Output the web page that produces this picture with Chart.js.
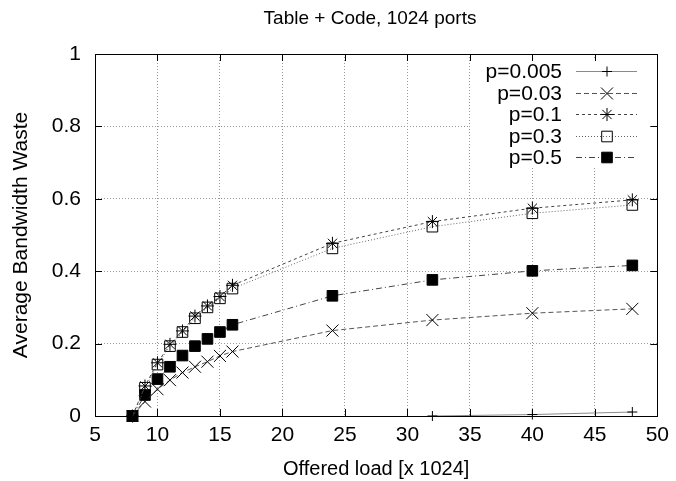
<!DOCTYPE html>
<html>
<head>
<meta charset="utf-8">
<script src="https://cdn.jsdelivr.net/npm/chart.js@4/dist/chart.umd.min.js"></script>
<style>
html,body{margin:0;padding:0;background:#fff;}
#wrap{width:676px;height:481px;position:relative;}
</style>
</head>
<body>
<div id="wrap"><canvas id="c" width="676" height="481"></canvas></div>
<script>
// ---- data ----
const chartTitle = "Table + Code, 1024 ports";
const xTitle = "Offered load [x 1024]";
const yTitle = "Average Bandwidth Waste";
const offeredLoad = [8, 9, 10, 11, 12, 13, 14, 15, 16, 24, 32, 40, 48];
const seriesLabels = ["p=0.005", "p=0.03", "p=0.1", "p=0.3", "p=0.5"];
const p0005 = [null, null, null, null, null, null, null, null, null, null, 0.000, 0.004, 0.011];
const p003  = [0, 0.040, 0.074, 0.099, 0.120, 0.136, 0.150, 0.166, 0.178, 0.236, 0.265, 0.284, 0.296];
const p01   = [0, 0.083, 0.147, 0.198, 0.235, 0.276, 0.304, 0.330, 0.361, 0.477, 0.537, 0.574, 0.597];
const p03   = [0, 0.078, 0.142, 0.193, 0.232, 0.270, 0.300, 0.325, 0.352, 0.463, 0.523, 0.560, 0.583];
const p05   = [0, 0.058, 0.102, 0.136, 0.167, 0.193, 0.213, 0.232, 0.252, 0.332, 0.376, 0.401, 0.416];
const xTicks = [5, 10, 15, 20, 25, 30, 35, 40, 45, 50];
const yTickLabels = ["0", "0.2", "0.4", "0.6", "0.8", "1"];

const FONT = '"Liberation Sans", Arial, Helvetica, sans-serif';
const FS = 21;
const toPts = arr => offeredLoad.map((x, i) => ({x: x, y: arr[i]}));

const styles = [
  {data: p0005, color: '#8a8a8a', dash: [], point: 'cross', r: 5, bg: 'rgba(0,0,0,0)'},
  {data: p003, color: '#555', dash: [5, 3], point: 'crossRot', r: 8.5, bg: 'rgba(0,0,0,0)'},
  {data: p01, color: '#444', dash: [3, 3], point: 'star', r: 6.5, bg: 'rgba(0,0,0,0)'},
  {data: p03, color: '#666', dash: [1, 2], point: 'rect', r: 7.5, bg: 'rgba(0,0,0,0)'},
  {data: p05, color: '#444', dash: [6, 3, 1, 3], point: 'rect', r: 7.5, bg: '#000'}
];

const datasets = styles.map((s, i) => ({
  label: seriesLabels[i],
  data: toPts(s.data),
  borderColor: s.color,
  borderWidth: 1,
  borderDash: s.dash,
  pointStyle: s.point,
  pointRadius: s.r,
  pointHoverRadius: s.r,
  pointBorderColor: '#000',
  pointBackgroundColor: s.bg,
  pointBorderWidth: 1,
  fill: false,
  tension: 0,
  spanGaps: false,
  clip: false
}));

const framePlugin = {
  id: 'frame',
  beforeDatasetsDraw(chart) {
    const {ctx} = chart;
    ctx.save();
    // legend background box (covers grid lines)
    ctx.fillStyle = '#fff';
    ctx.fillRect(470, 60, 181, 106);
    ctx.restore();
  },
  afterDatasetsDraw(chart) {
    const {ctx, chartArea: a, scales} = chart;
    ctx.save();
    // frame
    ctx.strokeStyle = '#000';
    ctx.lineWidth = 1;
    ctx.setLineDash([]);
    ctx.strokeRect(Math.round(a.left) + 0.5, Math.round(a.top) + 0.5, Math.round(a.right - a.left), Math.round(a.bottom - a.top));
    // inward ticks
    const tl = 7;
    ctx.beginPath();
    scales.x.ticks.forEach(t => {
      const px = Math.round(scales.x.getPixelForValue(t.value)) + 0.5;
      ctx.moveTo(px, a.bottom); ctx.lineTo(px, a.bottom - tl);
      ctx.moveTo(px, a.top); ctx.lineTo(px, a.top + tl);
    });
    scales.y.ticks.forEach(t => {
      const py = Math.round(scales.y.getPixelForValue(t.value)) + 0.5;
      ctx.moveTo(a.left, py); ctx.lineTo(a.left + tl, py);
      ctx.moveTo(a.right, py); ctx.lineTo(a.right - tl, py);
    });
    ctx.stroke();

    // legend
    ctx.font = FS + 'px ' + FONT;
    ctx.textAlign = 'right';
    ctx.textBaseline = 'middle';
    const x0 = 576, x1 = 637, mx = 607, y0 = 71, dy = 21.5;
    chart.data.datasets.forEach((ds, i) => {
      const y = Math.round(y0 + i * dy) + 0.5;
      ctx.fillStyle = '#000';
      ctx.fillText(ds.label, 562, y + 1);
      ctx.save();
      ctx.strokeStyle = ds.borderColor;
      ctx.lineWidth = 1;
      ctx.setLineDash(ds.borderDash);
      ctx.beginPath();
      ctx.moveTo(x0, y); ctx.lineTo(x1, y);
      ctx.stroke();
      ctx.restore();
      ctx.save();
      ctx.strokeStyle = '#000';
      ctx.fillStyle = ds.pointBackgroundColor;
      ctx.lineWidth = 1;
      ctx.setLineDash([]);
      Chart.helpers.drawPoint(ctx, {pointStyle: ds.pointStyle, radius: ds.pointRadius, rotation: 0, borderWidth: 1}, mx, y);
      ctx.restore();
    });

    // chart title
    ctx.font = '19px ' + FONT;
    ctx.textAlign = 'center';
    ctx.fillStyle = '#000';
    ctx.fillText(chartTitle, 370, 19);
    ctx.restore();
  }
};

new Chart(document.getElementById('c'), {
  type: 'line',
  data: {datasets: datasets},
  plugins: [framePlugin],
  options: {
    responsive: false,
    animation: false,
    devicePixelRatio: 1,
    layout: {padding: {top: 54, right: 13, bottom: 0, left: 0}},
    plugins: {legend: {display: false}, title: {display: false}, tooltip: {enabled: false}},
    scales: {
      x: {
        type: 'linear',
        min: 5, max: 50,
        afterBuildTicks: s => { s.ticks = xTicks.map(v => ({value: v})); },
        afterFit: s => { s.height = 65; },
        ticks: {font: {family: FONT, size: FS}, color: '#000', padding: 7, maxRotation: 0, autoSkip: false},
        grid: {color: '#999', lineWidth: 1, drawTicks: false},
        border: {display: false, dash: [1, 2]},
        title: {display: true, text: xTitle, font: {family: FONT, size: 20}, color: '#000', padding: {top: 0, bottom: 0}}
      },
      y: {
        type: 'linear',
        min: 0, max: 1,
        afterBuildTicks: s => { s.ticks = yTickLabels.map(v => ({value: parseFloat(v)})); },
        afterFit: s => { s.width = 95; },
        ticks: {font: {family: FONT, size: FS}, color: '#000', padding: 14,
          callback: (v, i) => yTickLabels[i]},
        grid: {color: '#999', lineWidth: 1, drawTicks: false},
        border: {display: false, dash: [1, 2]},
        title: {display: true, text: yTitle, font: {family: FONT, size: FS}, color: '#000', padding: {top: 9, bottom: 0}}
      }
    }
  }
});
</script>
</body>
</html>
